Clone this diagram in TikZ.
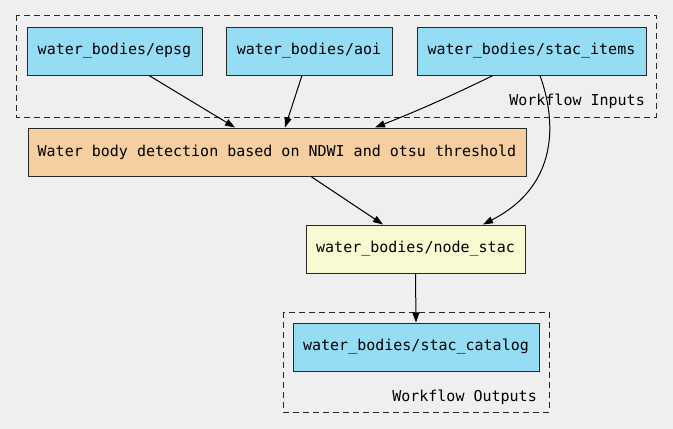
\documentclass[tikz,border=0pt]{standalone}
\usepackage{fontspec}
\setmonofont{DejaVu Sans Mono}
\usetikzlibrary{arrows.meta}
\definecolor{bg}{RGB}{239,239,239}
\definecolor{inblue}{RGB}{148,221,245}
\definecolor{procorange}{RGB}{245,207,160}
\definecolor{stacyellow}{RGB}{250,250,210}
\definecolor{edgegray}{RGB}{40,40,40}
\tikzset{
  box/.style={draw=edgegray, line width=1pt, minimum height=48pt, inner sep=0pt,
    font=\ttfamily\fontsize{15}{18}\selectfont},
  inbox/.style={box, fill=inblue},
  procbox/.style={box, fill=procorange},
  stacbox/.style={box, fill=stacyellow},
  cluster/.style={draw=black!85, line width=1pt, dash pattern=on 6pt off 4pt},
  clabel/.style={anchor=east, inner sep=0pt, font=\ttfamily\fontsize{15}{18}\selectfont},
  arr/.style={draw=black, line width=1pt, -{Triangle[length=10pt,width=7pt]}}
}
\begin{document}
\begin{tikzpicture}[x=1pt,y=-1pt]
\fill[bg] (0,0) rectangle (673,429);
\useasboundingbox (0,0) rectangle (673,429);
% clusters
\draw[cluster] (16,15) rectangle (656,117);
\draw[cluster] (283,312) rectangle (549,412);
\node[clabel] (inlabel) at (645,101) {Workflow Inputs};
\node[clabel] (outlabel) at (537,397) {Workflow Outputs};
% nodes
\node[inbox, minimum width=175pt] (epsg) at (114.5,51) {water\_bodies/epsg};
\node[inbox, minimum width=166pt] (aoi) at (309,51) {water\_bodies/aoi};
\node[inbox, minimum width=229pt] (items) at (531.5,51) {water\_bodies/stac\_items};
\node[procbox, minimum width=498pt] (proc) at (277,152) {Water body detection based on NDWI and otsu threshold};
\node[stacbox, minimum width=219pt] (nstac) at (415.5,249) {water\_bodies/node\_stac};
\node[inbox, minimum width=246pt] (cat) at (416,347) {water\_bodies/stac\_catalog};
% edges
\draw[arr] ([xshift=34.5pt]epsg.south) -- ([xshift=-42pt]proc.north);
\draw[arr] ([xshift=-7pt]aoi.south) -- ([xshift=8pt]proc.north);
\draw[arr] ([xshift=-38.5pt]items.south) .. controls (455,94) and (420,110) .. ([xshift=98pt]proc.north);
\draw[arr] ([xshift=8.5pt]items.south) .. controls (556,120) and (560,185) .. ([xshift=67.5pt]nstac.north);
\draw[arr] ([xshift=34pt]proc.south) -- ([xshift=-32.5pt]nstac.north);
\draw[arr] (nstac.south) -- (cat.north);
\end{tikzpicture}
\end{document}
